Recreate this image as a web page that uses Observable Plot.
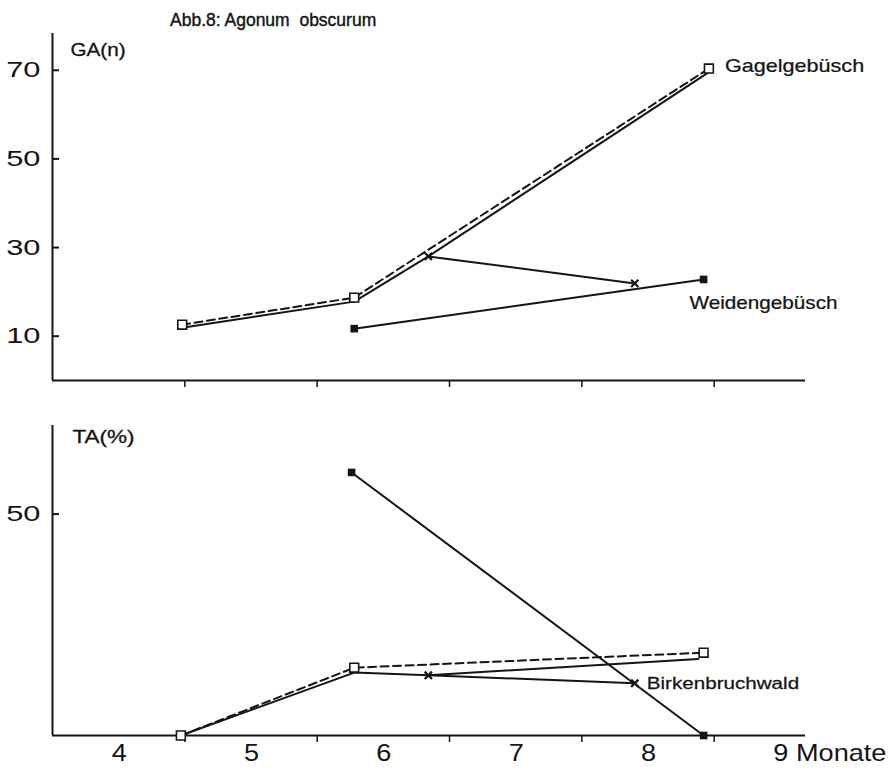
<!DOCTYPE html>
<html>
<head>
<meta charset="utf-8">
<script src="https://cdn.jsdelivr.net/npm/d3@7"></script>
<script src="https://cdn.jsdelivr.net/npm/@observablehq/plot@0.6"></script>
<style>
  html, body { margin: 0; padding: 0; background: #fff; }
  #chart { position: relative; width: 895px; height: 772px; background: #fff; overflow: hidden; }
  #title { position: absolute; left: 170px; top: 12px; font: 17.5px "Liberation Sans", Arial, sans-serif; line-height: 17px;
           color: #141414; white-space: pre; -webkit-text-stroke: 0.4px #141414; }
  .panel { position: absolute; left: 0; }
</style>
</head>
<body>
<div id="chart">
  <div id="title">Abb.8: Agonum  obscurum</div>
  <div id="ga" class="panel" style="top:0px"></div>
  <div id="ta" class="panel" style="top:395px"></div>
</div>
<script>
// Months (decimal) and values per habitat, upper panel: GA (n)
const gagelMonthsGA = [4.48, 5.78, 8.46];
const gagelGA = [12.6, 18.7, 70.4];
const totalMonthsGA = [4.48, 5.78, 6.34, 8.46];
const totalGA = [11.9, 17.8, 28.0, 69.6];
const birkenMonthsGA = [6.34, 7.90];
const birkenGA = [28.0, 21.9];
const weidenMonthsGA = [5.78, 8.42];
const weidenGA = [11.7, 22.8];

// Lower panel: TA (%)
const gagelMonthsTA = [4.47, 5.78, 8.42];
const gagelTA = [0, 15.3, 18.7];
const totalMonthsTA = [4.47, 5.78, 6.34, 8.38];
const totalTA = [0, 14.2, 13.6, 17.3];
const birkenMonthsTA = [6.34, 7.90];
const birkenTA = [13.6, 11.8];
const weidenMonthsTA = [5.76, 8.42];
const weidenTA = [59.4, 0];

// Axes
const monthLabels = [4, 5, 6, 7, 8, 9];
const monthBoundaries = [4.5, 5.5, 6.5, 7.5, 8.5];
const gaTicks = [10, 30, 50, 70];
const taTicks = [50];
const xDomain = [3.5, 9.19];

const ink = "#141414";
const rows = (months, values) => months.map((m, i) => ({month: m, value: values[i]}));
const monthText = d => d === 9 ? "9 Monate" : String(d);

// The typeface of the figure is a wide grotesque: stretch glyphs horizontally about their anchor.
function widen(svg, match, k) {
  svg.querySelectorAll("text").forEach(t => {
    if (!match(t.textContent)) return;
    const b = t.getBBox();
    const anchor = getComputedStyle(t).textAnchor;
    const px = anchor === "end" ? b.x + b.width : anchor === "middle" ? b.x + b.width / 2 : b.x;
    const prev = t.getAttribute("transform") || "";
    t.setAttribute("transform", `${prev} translate(${px},0) scale(${k},1) translate(${-px},0)`);
  });
}

function panel({height, marginTop, marginBottom, yDomain, yTicks, yLabel, yLabelDx, yLabelDy, gagel, total, birken, weiden, labels, showMonths}) {
  const marks = [
    Plot.ruleY([0], {stroke: ink, strokeWidth: 2}),
    Plot.ruleX([xDomain[0]], {stroke: ink, strokeWidth: 2}),
    Plot.axisY({ticks: yTicks, tickSize: -7, tickPadding: 19, fontSize: 22, label: null, stroke: ink, strokeWidth: 2, fill: ink}),
    Plot.axisX({ticks: monthBoundaries, tickSize: 7, tickFormat: () => "", label: null, stroke: ink, strokeWidth: 1.5}),
    Plot.text([yLabel], {frameAnchor: "top-left", dx: yLabelDx, dy: yLabelDy, textAnchor: "start", lineAnchor: "middle", fontSize: 18, fill: ink, stroke: ink, strokeWidth: 0.3}),
    Plot.line(total, {x: "month", y: "value", stroke: ink, strokeWidth: 2}),
    Plot.line(gagel, {x: "month", y: "value", stroke: ink, strokeWidth: 2, strokeDasharray: "8,4.5"}),
    Plot.line(birken, {x: "month", y: "value", stroke: ink, strokeWidth: 2}),
    Plot.line(weiden, {x: "month", y: "value", stroke: ink, strokeWidth: 2}),
    Plot.dot(gagel, {x: "month", y: "value", symbol: "square", r: 5, fill: "white", stroke: ink, strokeWidth: 1.6}),
    Plot.dot(weiden, {x: "month", y: "value", symbol: "square", r: 4.3, fill: ink, stroke: null}),
    Plot.dot(birken, {x: "month", y: "value", symbol: "times", r: 3.4, stroke: ink, strokeWidth: 2.2}),
    ...labels.map(({data, text, dx, dy, size}) =>
      Plot.text(data.slice(-1), {x: "month", y: "value", text: () => text, dx, dy, textAnchor: "start", lineAnchor: "middle", fontSize: size, fill: ink, stroke: ink, strokeWidth: 0.25}))
  ];
  if (showMonths) {
    marks.push(Plot.text(monthLabels, {x: d => d, frameAnchor: "bottom", dy: 18, text: monthText, textAnchor: "start", dx: -7, lineAnchor: "middle", fontSize: 23, fill: ink}));
  }
  return Plot.plot({
    width: 895, height, marginLeft: 52, marginRight: 90, marginTop, marginBottom,
    style: {fontFamily: "'Liberation Sans', Arial, sans-serif", color: ink, background: "transparent", overflow: "visible"},
    x: {domain: xDomain, axis: null},
    y: {domain: yDomain, axis: null},
    marks
  });
}

const gagelGARows = rows(gagelMonthsGA, gagelGA);
const weidenGARows = rows(weidenMonthsGA, weidenGA);
const gaLabels = [
  {data: gagelGARows, text: "Gagelgebüsch", dx: 16, dy: -2, size: 18, k: 1.2},
  {data: weidenGARows, text: "Weidengebüsch", dx: -14, dy: 24, size: 18, k: 1.15}
];
const gaSvg = panel({
  height: 395, marginTop: 33, marginBottom: 15, yDomain: [0, 78.3], yTicks: gaTicks,
  yLabel: "GA(n)", yLabelDx: 18, yLabelDy: 17,
  gagel: gagelGARows, total: rows(totalMonthsGA, totalGA),
  birken: rows(birkenMonthsGA, birkenGA), weiden: weidenGARows,
  labels: gaLabels, showMonths: false
});
document.getElementById("ga").append(gaSvg);

const birkenTARows = rows(birkenMonthsTA, birkenTA);
const taLabels = [
  {data: birkenTARows, text: "Birkenbruchwald", dx: 12, dy: 0, size: 16.5, k: 1.25}
];
const taSvg = panel({
  height: 377, marginTop: 30, marginBottom: 37, yDomain: [0, 70], yTicks: taTicks,
  yLabel: "TA(%)", yLabelDx: 20, yLabelDy: 12,
  gagel: rows(gagelMonthsTA, gagelTA), total: rows(totalMonthsTA, totalTA),
  birken: birkenTARows, weiden: rows(weidenMonthsTA, weidenTA),
  labels: taLabels, showMonths: true
});
document.getElementById("ta").append(taSvg);

// Widen the lettering once the charts are in the document.
const tickStrings = new Set([...gaTicks, ...taTicks].map(String));
const monthStrings = new Set(monthLabels.map(monthText));
for (const svg of [gaSvg, taSvg]) widen(svg, s => tickStrings.has(s), 1.4);
widen(taSvg, s => monthStrings.has(s), 1.18);
for (const l of gaLabels) widen(gaSvg, s => s === l.text, l.k);
for (const l of taLabels) widen(taSvg, s => s === l.text, l.k);
widen(gaSvg, s => s === "GA(n)", 1.15);
widen(taSvg, s => s === "TA(%)", 1.25);
</script>
</body>
</html>
